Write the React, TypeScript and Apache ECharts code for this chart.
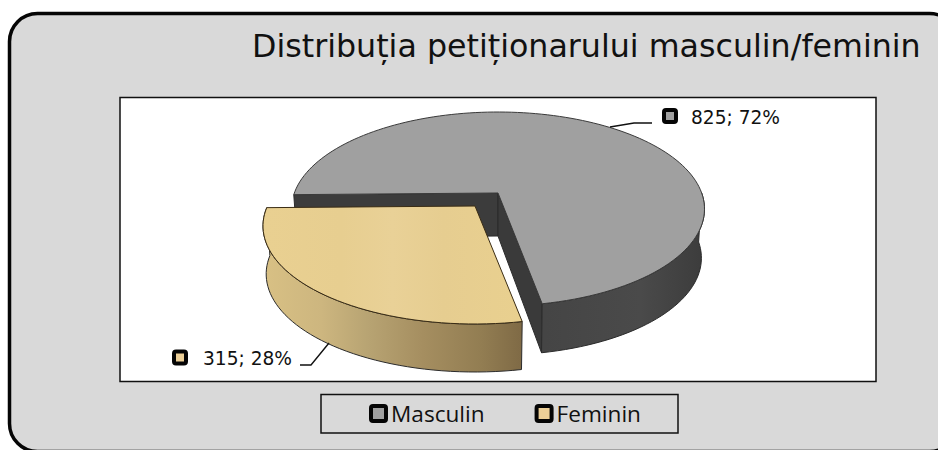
import React, { useEffect, useRef } from "react";
import * as echarts from "echarts";

const TITLE = "Distribuția petiționarului masculin/feminin";
const categories = ["Masculin", "Feminin"];
const counts = [825, 315];
const percents = [72, 28];
const START_ANGLE = 269;

const FACE = [
  { cx: 498, cy: 209, a: 206.5, b: 97, k: 0.165, depth: 49, inset: 0.985 },
  { cx: 475, cy: 226, a: 212, b: 98, k: 0.204, depth: 48, inset: 0.985 },
];

// Perspective map of the true pie circle to the drawn ellipse.
function project(f: any, deg: number, r = 1, down = 0) {
  const t = (deg * Math.PI) / 180;
  const u = r * Math.sin(t);
  const v = -r * Math.cos(t);
  const d = 1 - f.k * v;
  const px = (u * Math.sqrt(1 - f.k * f.k)) / d;
  const py = (v - f.k) / d;
  const s = down ? f.inset : 1;
  return [f.cx + px * f.a * s, f.cy + py * f.b + down];
}

function arc(f: any, from: number, to: number, down = 0) {
  const pts: number[][] = [];
  const n = Math.max(2, Math.ceil(Math.abs(to - from) / 2));
  for (let i = 0; i <= n; i++) pts.push(project(f, from + ((to - from) * i) / n, 1, down));
  return pts;
}

const stroke = { stroke: "#2b2b2b", lineWidth: 1, lineJoin: "round" };

function poly(points: number[][], fill: any, extra: any = {}) {
  return { type: "polygon", shape: { points }, style: { fill, ...stroke, ...extra } };
}

function hGrad(x0: number, x1: number, stops: [number, string][]) {
  return new echarts.graphic.LinearGradient(
    x0, 0, x1, 0,
    stops.map(([offset, color]) => ({ offset, color })),
    true,
  );
}

function marker(x: number, y: number, color: string) {
  return {
    type: "rect",
    shape: { x, y, width: 12, height: 12, r: 2 },
    style: { fill: color, stroke: "#050505", lineWidth: 4 },
  };
}

function labelText(x: number, y: number, text: string) {
  return {
    type: "text",
    x,
    y,
    style: { text, fontFamily: "DejaVu Sans", fontSize: 18.6, fill: "#111", textVerticalAlign: "middle", textAlign: "left" },
  };
}

function leader(points: number[][]) {
  return { type: "polyline", shape: { points }, style: { stroke: "#111", lineWidth: 1.4, fill: "none" } };
}

function renderMale(sweep: number) {
  const f = FACE[0];
  const from = START_ANGLE;
  const to = START_ANGLE + sweep;
  const apex = project(f, 0, 0);
  const apexDown = [apex[0], apex[1] + 43];
  const startEdge = project(f, from);
  const endEdge = project(f, to);
  const endDown = project(f, to, 1, f.depth);
  const startDown = project(f, from, 1, 43);
  const dark = "#3c3c3c";
  const wallTop = arc(f, 90, to - 360);
  const wallBottom = arc(f, 90, to - 360, f.depth).reverse();
  const topFace = [apex, ...arc(f, from, to)];
  return {
    type: "group",
    children: [
      poly([startEdge, apex, apexDown, startDown], dark),
      poly([apex, endEdge, endDown, apexDown], "#3a3a3a"),
      poly([...wallTop, ...wallBottom], hGrad(545, 704, [[0, "#454545"], [0.6, "#4a4a4a"], [1, "#3c3c3c"]])),
      poly(topFace, "#a0a0a0", { stroke: "#3a3a3a" }),
      leader([[610, 127], [634, 123], [652, 123]]),
      marker(664, 110, "#a0a0a0"),
      labelText(691, 117, `${counts[0]}; ${percents[0]}%`),
    ],
  };
}

function renderFemale(sweep: number, maleSweep: number) {
  const f = FACE[1];
  const from = START_ANGLE + maleSweep - 360;
  const to = from + sweep;
  const apex = project(f, 0, 0);
  const topFace = [apex, ...arc(f, from, to)];
  const wallTop = arc(f, from, to);
  const wallBottom = arc(f, from, to, f.depth).reverse();
  return {
    type: "group",
    children: [
      poly(
        [...wallTop, ...wallBottom],
        hGrad(265, 520, [[0, "#d8c084"], [0.22, "#cdb67f"], [0.4, "#b8a473"], [0.62, "#a58e60"], [0.85, "#927d52"], [1, "#806b46"]]),
      ),
      poly(
        topFace,
        hGrad(265, 520, [[0, "#e9d091"], [0.3, "#e7ce90"], [0.5, "#e9d197"], [0.7, "#e6cd90"], [1, "#e9d08f"]]),
        { stroke: "#3a2c14" },
      ),
      leader([[300, 365], [311, 365], [329, 343]]),
      marker(174, 351.5, "#eccf97"),
      labelText(203, 358, `${counts[1]}; ${percents[1]}%`),
    ],
  };
}

export default function App() {
  const ref = useRef<HTMLDivElement>(null);
  useEffect(() => {
    const chart = echarts.init(ref.current!, undefined, { renderer: "svg" });
    const total = counts[0] + counts[1];
    const sweeps = counts.map((c) => (c / total) * 360);
    chart.setOption({
      animation: false,
      backgroundColor: "#ffffff",
      legend: {
        data: categories.map((name) => ({ name })),
        left: 364,
        top: 397,
        itemGap: 50,
        itemWidth: 15,
        itemHeight: 15,
        icon: "path://M2 0H13A2 2 0 0 1 15 2V13A2 2 0 0 1 13 15H2A2 2 0 0 1 0 13V2A2 2 0 0 1 2 0Z",
        itemStyle: { borderColor: "#050505", borderWidth: 4 },
        textStyle: { fontFamily: "Open Sans", fontSize: 22.6, color: "#111", padding: [0, 0, 0, 0] },
        selectedMode: false,
      },
      graphic: [
        {
          type: "rect",
          z: -10,
          shape: { x: 9.5, y: 13.5, width: 948, height: 438, r: 28 },
          style: { fill: "#d9d9d9", stroke: "#050505", lineWidth: 3.5 },
        },
        {
          type: "rect",
          z: -9,
          shape: { x: 120, y: 97.5, width: 756, height: 284 },
          style: { fill: "#ffffff", stroke: "#111", lineWidth: 1.5 },
        },
        {
          type: "rect",
          z: -9,
          shape: { x: 321, y: 394.5, width: 357, height: 38.5 },
          style: { fill: "#d9d9d9", stroke: "#111", lineWidth: 1.5 },
        },
        {
          type: "text",
          z: 5,
          x: 252,
          y: 46,
          style: { text: TITLE, fontFamily: "DejaVu Sans", fontSize: 31.7, fill: "#111", textVerticalAlign: "middle" },
        },
      ],
      series: [
        {
          type: "custom",
          name: categories[0],
          coordinateSystem: "none",
          data: [counts[0]],
          itemStyle: { color: "#a0a0a0", borderColor: "#050505", borderWidth: 4 },
          renderItem: () => renderMale(sweeps[0]),
        },
        {
          type: "custom",
          name: categories[1],
          coordinateSystem: "none",
          data: [counts[1]],
          itemStyle: { color: "#eccf97", borderColor: "#050505", borderWidth: 4 },
          renderItem: () => renderFemale(sweeps[1], sweeps[0]),
        },
      ],
    });
    return () => chart.dispose();
  }, []);
  return <div ref={ref} style={{ position: "absolute", left: 0, top: 0, width: 938, height: 450 }} />;
}
